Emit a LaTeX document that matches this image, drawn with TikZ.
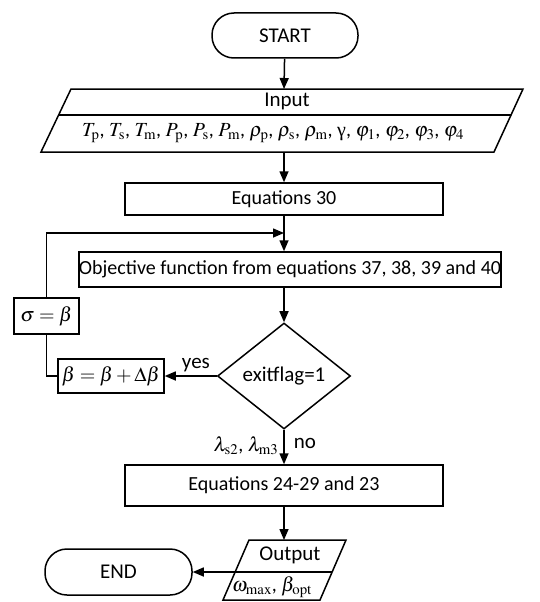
\documentclass[tikz,border=0pt]{standalone}
\usepackage{mathptmx}
\usepackage[no-math]{fontspec}
\setmainfont{Carlito}
\newfontfamily\tms{Liberation Serif}
\usetikzlibrary{arrows.meta,shapes.geometric}
\tikzset{
  ln/.style={line width=1.5pt},
  arr/.style={ln,-{Triangle[length=11pt,width=9pt]}},
  term/.style={draw,ln,rounded corners=22pt,font=\fontsize{21}{24}\selectfont},
  procbox/.style={draw,ln,inner sep=0pt,font=\fontsize{20}{24}\selectfont},
  lbl/.style={inner sep=0pt,font=\fontsize{21}{24}\selectfont},
  mth/.style={inner sep=0pt,font=\fontsize{20}{24}\selectfont},
}
\begin{document}
\begin{tikzpicture}[x=1pt,y=-1pt]
\useasboundingbox (0,0) rectangle (540,602);
% START
\node[term,minimum width=146pt,minimum height=45pt] (start) at (285,35.5) {START};
% Input parallelogram
\draw[ln] (71,89) -- (523,89) -- (494,152) -- (41,152) -- cycle;
\draw[ln] (59,115) -- (511,115);
\coordinate (inT) at (284,89);
\coordinate (inB) at (284,152);
\node[lbl] (inlbl) at (287,101) {Input};
\node[mth] (invars) at (273,133) {$T_{\mathrm{p}}$, $T_{\mathrm{s}}$, $T_{\mathrm{m}}$, $P_{\mathrm{p}}$, $P_{\mathrm{s}}$, $P_{\mathrm{m}}$, $\rho_{\mathrm{p}}$, $\rho_{\mathrm{s}}$, $\rho_{\mathrm{m}}$, {\tms γ}, $\varphi_1$, $\varphi_2$, $\varphi_3$, $\varphi_4$};
% Equations 30
\node[procbox,minimum width=318pt,minimum height=32pt] (eq30) at (284,199) {Equations 30};
% Objective
\node[procbox,minimum width=422pt,minimum height=35pt] (obj) at (290,269.5) {Objective function from equations 37, 38, 39 and 40};
\coordinate (join) at (284,233);
% Diamond
\node[draw,ln,diamond,inner sep=0pt,minimum width=133pt,minimum height=106pt,font=\fontsize{21}{24}\selectfont] (dec) at (284,376) {exitflag=1};
% beta box
\node[procbox,minimum width=106pt,minimum height=34pt,font=\fontsize{20}{24}\selectfont] (beta) at (111,376) {$\beta=\beta+\Delta\beta$};
% sigma box
\node[procbox,minimum width=65pt,minimum height=36pt,font=\fontsize{20}{24}\selectfont] (sigma) at (46.5,316) {$\sigma=\beta$};
\coordinate (lc) at (46.5,376);
% Equations 24-29
\node[procbox,minimum width=318pt,minimum height=41pt] (eq24) at (284,485.5) {Equations 24-29 and 23};
% Output parallelogram
\draw[ln] (249,540) -- (346,540) -- (320,600) -- (223,600) -- cycle;
\draw[ln] (235,572) -- (332,572);
\coordinate (outT) at (284,540);
\coordinate (outL) at (235,572);
\node[lbl] (outlbl) at (290,555) {Output};
\node[mth] (outvars) at (272,587) {$\omega_{\max}$, $\beta_{\mathrm{opt}}$};
% END
\node[term,minimum width=147pt,minimum height=46pt] (end) at (118.5,572) {END};
% connectors
\draw[arr] (start) -- (inT);
\draw[arr] (inB) -- (eq30);
\draw[arr] (eq30) -- (obj.north -| eq30);
\draw[arr] (obj.south -| dec) -- (dec);
\draw[arr] (dec) -- node[lbl,above=3pt,pos=0.4] (yes) {yes} (beta);
\draw[ln] (beta.west) -- (lc) -- (sigma.south);
\draw[arr] (sigma.north) |- (join);
\draw[arr] (dec.south) -- node[mth,left=5pt,pos=0.45] (lam) {$\lambda_{\mathrm{s2}}$, $\lambda_{\mathrm{m3}}$} node[lbl,right=9pt,pos=0.4] (no) {no} (eq24.north -| dec);
\draw[arr] (eq24.south -| outT) -- (outT);
\draw[arr] (outL) -- (end);
\end{tikzpicture}
\end{document}
